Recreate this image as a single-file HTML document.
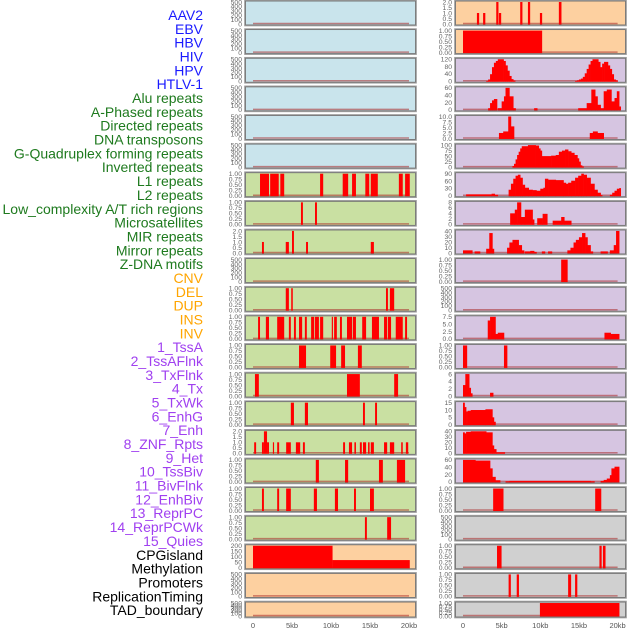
<!DOCTYPE html>
<html><head><meta charset="utf-8">
<style>
html,body{margin:0;padding:0;background:#fff;}
#wrap{position:relative;width:630px;height:630px;overflow:hidden;font-family:"Liberation Sans",sans-serif;}
svg{position:absolute;left:0;top:0;}
</style></head>
<body>
<div id="wrap">
<svg id="chart" width="630" height="630" viewBox="0 0 630 630"></svg>
</div>
<script>
const trackLabels = ["AAV2","EBV","HBV","HIV","HPV","HTLV-1","Alu repeats","A-Phased repeats","Directed repeats","DNA transposons","G-Quadruplex forming repeats","Inverted repeats","L1 repeats","L2 repeats","Low_complexity A/T rich regions","Microsatellites","MIR repeats","Mirror repeats","Z-DNA motifs","CNV","DEL","DUP","INS","INV","1_TssA","2_TssAFlnk","3_TxFlnk","4_Tx","5_TxWk","6_EnhG","7_Enh","8_ZNF_Rpts","9_Het","10_TssBiv","11_BivFlnk","12_EnhBiv","13_ReprPC","14_ReprPCWk","15_Quies","CPGisland","Methylation","Promoters","ReplicationTiming","TAD_boundary"];
const labelGroups = [6,13,5,15,5];
const groupColors = ["#1a1aff","#1e7a1e","#ffa500","#a040f0","#000000"];
const xTickValues = [0,5,10,15,20];
const xTickLabels = ["0","5kb","10kb","15kb","20kb"];

const leftBg = ["#c9e4ec","#c9e4ec","#c9e4ec","#c9e4ec","#c9e4ec","#c9e4ec","#c9e0a2","#c9e0a2","#c9e0a2","#c9e0a2","#c9e0a2","#c9e0a2","#c9e0a2","#c9e0a2","#c9e0a2","#c9e0a2","#c9e0a2","#c9e0a2","#c9e0a2","#fdd0a0","#fdd0a0","#fdd0a0"];
const rightBg = ["#fdd0a0","#fdd0a0","#d6c5e1","#d6c5e1","#d6c5e1","#d6c5e1","#d6c5e1","#d6c5e1","#d6c5e1","#d6c5e1","#d6c5e1","#d6c5e1","#d6c5e1","#d6c5e1","#d6c5e1","#d6c5e1","#d6c5e1","#d0d0d0","#d0d0d0","#d0d0d0","#d0d0d0","#d0d0d0"];

const T500 = ["0","100","200","300","400","500"];
const T1 = ["0.00","0.25","0.50","0.75","1.00"];
const T2 = ["0.0","0.5","1.0","1.5","2.0"];
const leftTicks = [T500,T500,T500,T500,T500,T500,T1,T1,T2,T500,T1,T1,T1,T1,T1,T2,T1,T1,T1,["0","50","100","150","200"],T500,T500];
const leftMax = [500,500,500,500,500,500,1,1,2,500,1,1,1,1,1,2,1,1,1,200,500,500];
const rightTicks = [T2,T1,["0","40","80","120"],["0","20","40","60"],["0.0","2.5","5.0","7.5","10.0"],["0","25","50","75","100"],["0","30","60","90"],["0","2","4","6","8"],["0","10","20","30","40"],T1,T500,["0.0","2.5","5.0","7.5"],T1,["0","2","4","6"],["0","5","10","15"],["0","10","20","30","40"],["0","20","40","60"],T1,T500,T1,T1,T1];
const rightMax = [2,1,125,65,10,100,110,9,42,1,500,9,1,8,15,42,65,1,500,1,1,1];

const leftSeries = [
 [],[],[],[],[],[],
 [[0.9,2.05,1],[2.2,3.3,1],[3.5,4.0,1],[8.6,9.0,1],[11.5,12.2,1],[12.7,13.2,1],[14.4,14.9,1],[15.1,16.0,1],[18.7,19.2,1],[19.5,20.1,1]],
 [[6.15,6.4,1],[7.95,8.2,1]],
 [[1.15,1.4,1],[4.2,4.6,1],[5.0,5.25,2],[6.8,7.05,1],[15.1,15.5,1]],
 [],
 [[4.2,4.6,1],[4.9,5.1,1],[17.05,17.3,1],[17.55,18.1,1]],
 [[0.65,0.9,1],[1.65,2.05,1],[3.1,4.0,1],[4.6,4.85,1],[5.25,5.5,1],[5.9,6.3,1],[6.65,6.9,1],[7.45,7.85,1],[7.95,8.45,1],[8.6,9.0,1],[10.1,10.25,1],[10.4,10.75,1],[11.15,11.4,1],[12.05,12.7,1],[12.8,13.2,1],[14.0,14.5,1],[15.25,16.15,1],[16.8,17.2,1],[17.3,17.7,1],[18.3,19.2,1],[19.5,19.75,1]],
 [[5.9,6.8,1],[9.9,10.65,1],[11.3,11.8,1],[13.45,13.95,1]],
 [[0.25,0.75,1],[12.05,13.7,1],[18.1,18.6,1]],
 [[4.85,5.25,1],[6.65,7.05,1],[14.1,14.35,1],[15.65,15.9,1]],
 [[0.15,0.4,1],[1.15,1.4,1],[1.4,1.8,2],[1.8,2.05,1],[2.55,2.7,1],[3.1,3.35,1],[4.25,4.85,1],[5.5,6.05,1],[6.4,6.65,1],[11.55,11.8,1],[12.3,12.7,1],[13.0,13.2,1],[13.7,13.95,1],[14.1,14.5,1],[14.75,14.95,1],[15.1,15.5,1],[16.8,17.2,1],[17.55,18.1,1],[19.0,19.2,1],[19.6,19.9,1]],
 [[8.05,8.45,1],[11.8,12.2,1],[16.15,16.65,1],[18.45,19.5,1]],
 [[1.15,1.4,1],[3.1,3.35,1],[4.25,4.85,1],[7.8,8.2,1],[10.5,10.9,1],[12.95,13.2,1],[15.0,15.5,1]],
 [[14.35,14.6,1],[17.2,17.7,1]],
 [[0,10.2,200],[10.2,20.1,70]],
 [],[]
];

const rightSeries = [
 [[1.8,1],[2.05,0],[2.6,1],[2.85,0],[4.3,2],[4.55,0],[4.65,1],[4.9,0],[7.4,2],[7.65,0],[8.4,2],[8.65,0],[9.95,1],[10.2,0],[12.4,2],[12.7,0]],
 [[0,1],[10.2,0]],
 [[3.0,2],[3.25,10],[3.5,40],[3.75,80],[4.0,105],[4.25,115],[4.5,125],[5.25,115],[5.5,90],[5.75,60],[6.0,30],[6.25,12],[6.5,4],[6.75,0],[14.5,2],[14.75,5],[15.0,10],[15.25,15],[15.5,25],[15.75,45],[16.0,70],[16.25,95],[16.5,115],[16.75,125],[17.5,110],[17.75,80],[18.0,100],[18.25,110],[18.75,90],[19.0,70],[19.25,40],[19.5,10],[19.75,5],[20.0,0]],
 [[3.25,5],[3.5,20],[3.75,28],[4.0,32],[4.4,0],[4.5,5],[5.0,25],[5.3,40],[5.5,65],[6.0,40],[6.5,5],[6.8,0],[9.2,5],[9.6,0],[14.9,5],[16.0,20],[16.6,60],[17.1,40],[17.4,15],[17.8,5],[18.2,55],[18.6,60],[19.2,25],[19.6,35],[19.9,55],[20.2,10],[20.4,0]],
 [[4.65,2.5],[5.2,3.2],[5.85,10],[6.2,5.5],[6.6,0],[16.4,2.5],[16.8,3.2],[17.4,2.5],[18.2,0]],
 [[6.4,5],[6.6,15],[6.8,35],[7.0,55],[7.2,70],[7.4,85],[7.6,95],[8.4,100],[9.4,98],[9.8,85],[10.0,75],[10.2,50],[11.4,52],[12.0,55],[12.4,70],[12.8,75],[13.2,80],[13.6,72],[14.0,65],[14.4,55],[14.8,40],[15.0,25],[15.2,8],[15.4,3],[15.6,0]],
 [[0.4,7],[3.7,10],[4.1,5],[4.5,0],[5.9,30],[6.2,60],[6.5,85],[6.8,100],[7.1,105],[7.4,90],[7.7,55],[8.0,40],[8.5,30],[9.0,28],[9.5,25],[10.0,35],[10.4,40],[10.6,85],[11.0,80],[12.0,78],[13.0,65],[13.3,60],[13.6,65],[14.0,75],[14.5,90],[14.9,100],[15.3,110],[15.6,105],[16.0,90],[16.5,60],[17.0,30],[17.4,15],[17.8,3],[18.0,0],[19.0,5],[19.3,15],[19.6,25],[19.9,35],[20.2,38],[20.4,0]],
 [[6.1,4.5],[6.7,6],[7.0,9],[7.5,3],[8.0,6],[9.0,2],[9.2,0],[9.6,2.5],[10.3,4.3],[10.9,0],[11.6,1.5],[12.7,3],[13.1,1.5],[14.0,0]],
 [[0,5],[1.2,0],[1.5,3],[2.2,0],[3.0,8],[3.4,38],[3.8,8],[4.0,0],[5.7,10],[6.0,20],[6.4,25],[7.2,15],[7.6,5],[7.9,0],[8.0,3],[8.7,4],[9.2,2],[9.5,0],[10.2,3],[10.6,0],[11.0,3],[11.5,0],[13.5,5],[13.9,10],[14.3,20],[14.6,25],[15.0,30],[15.4,38],[15.8,30],[16.1,15],[16.5,3],[16.8,0],[17.8,3],[18.7,0],[19.0,5],[19.5,15],[19.8,42],[20.2,0]],
 [[12.7,1],[13.5,0]],
 [],
 [[3.2,7.5],[3.5,9],[4.2,2],[4.5,2.5],[5.3,0],[18.3,2.5],[19.1,2],[20.2,0]],
 [[0,1],[0.5,0],[5.3,1],[5.7,0]],
 [[0,4],[0.3,8],[0.8,3],[1.0,1],[1.2,0],[3.5,1.2],[3.9,0]],
 [[0,15],[0.2,12],[0.4,9],[0.6,9.5],[1.0,10],[2.9,10.5],[3.8,5],[4.0,2],[4.2,0]],
 [[0,40],[0.2,38],[0.4,41],[1.0,42],[3.0,40],[3.8,15],[4.0,8],[4.3,2],[5.4,0]],
 [[0,65],[1.6,63],[3.5,40],[3.8,15],[4.2,5],[4.8,0],[5.5,2],[6.0,3],[16.5,2],[17.0,0],[17.8,3],[18.2,6],[18.6,10],[19.0,20],[19.2,40],[19.6,45],[20.2,0]],
 [[3.9,1],[5.2,0],[17.1,1],[17.85,0]],
 [],
 [[4.4,1],[4.95,0],[17.65,1],[17.9,0],[18.1,1],[18.4,0]],
 [[5.9,1],[6.15,0],[6.95,1],[7.2,0],[13.6,1],[13.95,0],[14.5,1],[14.75,0]],
 [[9.95,1],[20.2,0]]
];

const NS = "http://www.w3.org/2000/svg";
const svg = document.getElementById("chart");
function mk(tag, attrs, parent){ const e=document.createElementNS(NS,tag); for(const k in attrs) e.setAttribute(k,attrs[k]); (parent||svg).appendChild(e); return e; }

let li=0;
labelGroups.forEach((n,g)=>{
  for(let j=0;j<n;j++){
    const t=mk("text",{x:203,y:20+li*13.84,"text-anchor":"end","font-size":"14",fill:groupColors[g],"font-family":"Liberation Sans, sans-serif"});
    t.textContent=trackLabels[li];
    
    
    li++;
  }
});

const ROWS=22, PITCH=28.62, PH=25;
const cols=[{x0:245,x1:416,zero:253,pxkb:7.8,bg:leftBg,ticks:leftTicks,max:leftMax,series:leftSeries,name:'left'},
            {x0:455,x1:626,zero:463,pxkb:7.73,bg:rightBg,ticks:rightTicks,max:rightMax,series:rightSeries,name:'right'}];

cols.forEach(c=>{
  const xs=kb=>c.zero+kb*c.pxkb;
  for(let r=0;r<ROWS;r++){
    const top=0.5+r*PITCH, h=(r===ROWS-1)?16:PH, bot=top+h;
    const yIn0=bot-1.5, yIn1=top+1.5;
    const ys=v=>yIn0-(v/c.max[r])*(yIn0-yIn1);
    const g=mk("g",{});
    
    
    mk("rect",{x:c.x0,y:top,width:c.x1-c.x0,height:h,fill:c.bg[r],stroke:"#9a9a9a","stroke-width":"1.6"},g);
    mk("rect",{x:c.x0+0.6,y:top+0.6,width:c.x1-c.x0-1.2,height:h-1.2,fill:"none",stroke:"#666","stroke-width":"0.6"},g);
    const bl=mk("line",{x1:xs(0),x2:xs(20),y1:bot-2,y2:bot-2,stroke:"rgba(170,40,40,0.55)","stroke-width":"1.5"},g);
    
    
    const s=c.series[r];
    if(s.length && s[0].length===3){
      s.forEach(seg=>{
        const b=mk("rect",{x:xs(seg[0]),y:ys(seg[2]),width:Math.max(0.8,xs(seg[1])-xs(seg[0])),height:yIn0-ys(seg[2])+0.5,fill:"#ff0000"},g);
        
        
      });
    } else {
      for(let i=0;i<s.length-1;i++){
        const v=s[i][1]; if(v<=0) continue;
        const b=mk("rect",{x:xs(s[i][0]),y:ys(v),width:xs(s[i+1][0])-xs(s[i][0])+0.3,height:yIn0-ys(v)+0.5,fill:"#ff0000"},g);
        
        
      }
    }
    const tk=c.ticks[r], n=tk.length;
    tk.forEach((lab,i)=>{
      const y=yIn0-(i/(n-1))*(yIn0-yIn1);
      const t=mk("text",{x:c.x0-3,y:y+2.3,"text-anchor":"end","font-size":"6.8",fill:"#666","font-family":"Liberation Sans, sans-serif"},g);
      t.textContent=lab;
      
      
    });
  }
  xTickValues.forEach((v,i)=>{
    const t=mk("text",{x:xs(v),y:628,"text-anchor":"middle","font-size":"7.5",fill:"#555","font-family":"Liberation Sans, sans-serif"});
    t.textContent=xTickLabels[i];
    
    
  });
});
</script>
</body></html>
